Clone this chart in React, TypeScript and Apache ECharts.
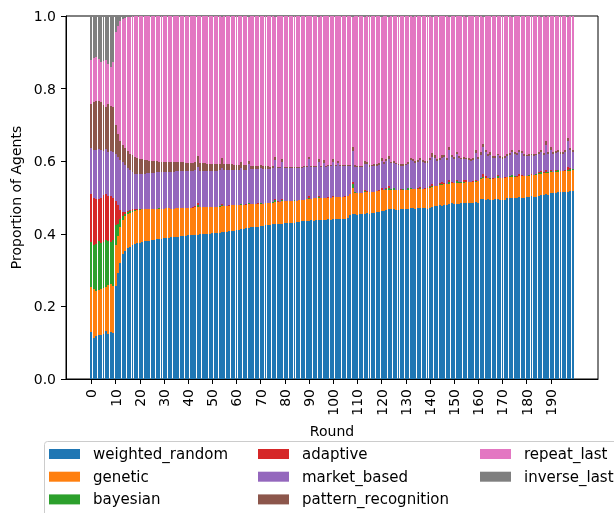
import React, { useEffect, useRef } from "react";
import * as echarts from "echarts";

// Agent counts per strategy in each round, out of a population of AGENTS.
const AGENTS = 1000;
const rounds: number[] = Array.from({ length: 200 }, (_, i) => i);

const weightedRandom = [
  130, 112, 118, 120, 121, 124, 132, 125, 129, 127,
  255, 292, 320, 343, 353, 360, 365, 369, 372, 374, 376, 378, 379,
  380, 381, 383, 384, 385, 386, 387, 388, 388, 389, 390, 390, 391, 392, 393, 394, 395, 396,
  397, 397, 398, 398, 399, 399, 400, 400, 400, 401, 401, 402, 402, 404, 404, 406, 407, 408, 409, 410,
  410, 412, 414, 416, 417, 418, 419, 420, 420, 421, 421, 423, 424, 425, 426, 427, 427, 428, 428, 429,
  429, 430, 430, 431, 432, 432, 434, 435, 436, 436, 437, 436, 437, 438, 438, 437, 439, 440, 439, 440,
  441, 441, 442, 441, 442, 443, 452, 455, 454, 453, 454, 455, 454, 456, 455, 456, 457, 459, 461, 462,
  463, 466, 467, 468, 467, 466, 466, 467, 468, 469, 469, 470, 470, 469, 470, 470, 471, 470, 469, 472,
  475, 476, 477, 478, 477, 478, 480, 482, 484, 483, 481, 483, 484, 485, 485, 484, 486, 486, 487, 486,
  495, 496, 494, 495, 493, 492, 496, 497, 494, 493, 494, 499, 500, 500, 499, 500, 501, 500, 500, 501,
  502, 503, 502, 502, 504, 507, 508, 509, 508, 512, 513, 512, 514, 515, 514, 515, 516, 517, 518,
];

const genetic = [
  124, 135, 125, 125, 128, 128, 122, 133, 133, 130,
  115, 103, 100, 94, 95, 94, 93, 92, 91, 91, 90, 89, 88,
  87, 87, 85, 84, 84, 83, 82, 81, 82, 81, 79, 79, 79, 78, 77, 77, 76, 75,
  75, 75, 75, 76, 74, 74, 74, 74, 74, 73, 74, 73, 73, 72, 72, 71, 70, 70, 69, 68,
  68, 67, 65, 64, 64, 63, 63, 62, 63, 62, 62, 61, 60, 60, 60, 61, 61, 60, 61, 60,
  61, 60, 60, 60, 59, 60, 59, 59, 59, 60, 60, 62, 61, 61, 61, 62, 61, 60, 61, 61,
  60, 60, 60, 61, 60, 60, 58, 70, 59, 59, 58, 58, 60, 58, 59, 59, 58, 58, 58, 58,
  58, 55, 55, 54, 55, 55, 55, 55, 54, 53, 53, 53, 53, 54, 53, 54, 53, 54, 56, 55,
  55, 56, 56, 56, 58, 58, 57, 56, 56, 57, 59, 58, 57, 56, 57, 58, 56, 57, 56, 59,
  57, 57, 59, 58, 59, 60, 57, 57, 59, 60, 60, 57, 56, 57, 58, 57, 57, 58, 58, 58,
  58, 58, 60, 61, 61, 59, 59, 59, 60, 58, 57, 59, 57, 57, 58, 58, 58, 57, 57,
];

const bayesian = [
  124, 123, 129, 135, 127, 126, 130, 122, 115, 125,
  55, 33, 20, 13, 7, 5, 4, 3, 2, 1, 1, 1, 0,
  0, 1, 0, 0, 0, 1, 0, 0, 0, 0, 0, 0, 0, 0, 0, 0, 1, 0,
  0, 0, 2, 4, 0, 0, 0, 0, 0, 1, 0, 0, 1, 3, 0, 0, 0, 0, 0, 1,
  0, 3, 0, 0, 3, 0, 0, 1, 0, 1, 0, 0, 0, 0, 1, 4, 0, 0, 3, 0,
  0, 0, 0, 1, 0, 0, 0, 0, 1, 2, 0, 0, 0, 2, 0, 1, 0, 0, 0, 1,
  0, 0, 0, 0, 0, 0, 1, 12, 1, 0, 0, 0, 3, 2, 0, 0, 0, 1, 0, 2,
  0, 3, 5, 1, 4, 0, 0, 0, 1, 0, 3, 2, 0, 0, 1, 3, 0, 0, 0, 1,
  1, 0, 0, 2, 3, 1, 0, 4, 1, 0, 5, 1, 2, 2, 1, 0, 0, 1, 2, 0,
  1, 4, 2, 0, 1, 0, 1, 4, 0, 0, 1, 1, 2, 5, 1, 0, 2, 2, 0, 1,
  1, 2, 0, 1, 2, 4, 1, 2, 1, 2, 0, 3, 5, 1, 0, 1, 3, 5, 3,
];

const adaptive = [
  132, 128, 124, 117, 123, 130, 126, 123, 128, 118,
  65, 50, 26, 10, 4, 4, 4, 3, 2, 2, 1, 1, 2,
  1, 0, 1, 0, 0, 0, 0, 0, 1, 0, 0, 0, 0, 0, 0, 0, 0, 0,
  0, 1, 1, 6, 1, 0, 0, 1, 0, 0, 0, 0, 1, 3, 0, 0, 1, 0, 0, 0,
  0, 1, 0, 1, 1, 0, 0, 0, 1, 1, 0, 0, 1, 0, 0, 5, 1, 0, 3, 0,
  0, 1, 0, 0, 0, 1, 0, 0, 1, 6, 0, 1, 0, 2, 0, 0, 0, 1, 0, 1,
  0, 1, 0, 0, 1, 0, 0, 6, 1, 0, 1, 0, 4, 2, 0, 1, 0, 0, 1, 3,
  0, 3, 4, 0, 1, 1, 0, 1, 0, 0, 1, 2, 1, 0, 1, 1, 0, 1, 0, 4,
  5, 1, 0, 4, 5, 2, 1, 6, 2, 1, 4, 1, 1, 5, 5, 2, 0, 1, 2, 1,
  2, 7, 4, 1, 2, 1, 1, 4, 1, 0, 1, 0, 1, 1, 1, 1, 6, 1, 1, 0,
  1, 1, 1, 0, 2, 4, 1, 5, 1, 5, 1, 1, 1, 1, 1, 2, 8, 2, 1,
];

const marketBased = [
  127, 134, 134, 137, 132, 120, 123, 123, 124, 124,
  130, 134, 138, 137, 130, 119, 109, 103, 99, 96, 96, 96, 97,
  99, 98, 99, 100, 100, 99, 101, 101, 100, 101, 102, 102, 102, 102, 102, 101, 101, 102,
  101, 100, 99, 100, 99, 100, 99, 99, 100, 99, 99, 99, 98, 98, 99, 98, 98, 98, 98, 97,
  98, 97, 98, 96, 107, 97, 96, 95, 95, 96, 96, 95, 94, 94, 93, 107, 91, 92, 103, 91,
  90, 90, 91, 89, 90, 89, 89, 89, 87, 102, 87, 86, 87, 95, 86, 96, 85, 85, 86, 95,
  85, 93, 84, 84, 84, 84, 76, 85, 70, 72, 71, 71, 72, 74, 71, 70, 72, 70, 70, 75,
  71, 73, 75, 71, 68, 69, 68, 65, 65, 67, 67, 76, 76, 73, 72, 76, 73, 71, 71, 70,
  76, 77, 68, 64, 67, 72, 66, 82, 69, 66, 70, 65, 61, 58, 57, 59, 58, 58, 75, 60,
  63, 76, 66, 60, 63, 57, 54, 54, 54, 53, 54, 57, 58, 61, 60, 60, 59, 61, 55, 53,
  53, 52, 51, 52, 50, 51, 49, 70, 50, 55, 50, 47, 49, 47, 46, 48, 70, 49, 46,
];

const patternRecognition = [
  120, 130, 135, 132, 132, 127, 117, 132, 123, 124,
  80, 64, 53, 48, 47, 46, 46, 46, 46, 45, 43, 40, 38,
  35, 34, 33, 32, 31, 30, 29, 29, 27, 27, 27, 26, 25, 26, 25, 25, 23, 23,
  23, 23, 22, 30, 22, 21, 21, 19, 19, 19, 18, 18, 18, 29, 17, 17, 15, 15, 14, 14,
  14, 18, 12, 12, 8, 10, 10, 9, 8, 9, 7, 7, 7, 6, 6, 8, 5, 5, 8, 5,
  4, 4, 3, 4, 3, 3, 3, 3, 3, 6, 3, 3, 3, 7, 3, 7, 3, 3, 3, 7,
  3, 5, 3, 3, 3, 3, 3, 12, 4, 4, 4, 4, 7, 6, 4, 4, 4, 4, 5, 8,
  5, 6, 7, 5, 5, 4, 4, 4, 4, 4, 5, 7, 6, 5, 5, 6, 5, 5, 5, 6,
  10, 8, 5, 5, 6, 6, 5, 8, 6, 5, 7, 5, 5, 5, 5, 5, 5, 5, 8, 5,
  7, 8, 7, 5, 7, 5, 5, 5, 5, 5, 5, 5, 5, 6, 6, 5, 7, 6, 5, 5,
  5, 5, 5, 5, 6, 6, 5, 10, 6, 8, 5, 5, 6, 5, 5, 6, 10, 6, 6,
];

const repeatLast = [
  122, 123, 122, 116, 109, 120, 128, 110, 108, 124,
  255, 296, 328, 347, 359, 369, 377, 383, 388, 391, 393, 395, 396,
  398, 399, 399, 400, 400, 401, 401, 401, 402, 402, 402, 403, 403, 402, 403, 403, 404, 404,
  404, 404, 403, 386, 405, 406, 406, 407, 407, 407, 408, 408, 407, 388, 408, 408, 409, 409, 410, 410,
  410, 402, 411, 411, 397, 412, 412, 413, 413, 410, 414, 414, 414, 415, 414, 385, 415, 415, 394, 415,
  416, 415, 416, 415, 416, 415, 415, 414, 413, 388, 413, 412, 412, 393, 412, 397, 412, 411, 411, 395,
  411, 400, 411, 411, 410, 410, 410, 357, 411, 412, 412, 412, 397, 402, 411, 410, 409, 408, 405, 389,
  403, 394, 384, 401, 400, 405, 407, 408, 408, 407, 402, 390, 391, 399, 398, 390, 398, 399, 399, 392,
  375, 382, 394, 391, 384, 383, 391, 358, 382, 388, 374, 387, 390, 389, 387, 392, 395, 392, 370, 389,
  375, 349, 368, 381, 375, 385, 386, 379, 387, 389, 385, 381, 378, 367, 375, 377, 368, 372, 381, 382,
  380, 379, 381, 379, 375, 366, 377, 342, 374, 360, 374, 373, 368, 374, 376, 370, 332, 364, 369,
];

const inverseLast = [
  121, 115, 113, 118, 128, 125, 122, 132, 140, 128,
  45, 28, 15, 8, 5, 3, 2, 1, 0, 0, 0, 0, 0,
  0, 0, 0, 0, 0, 0, 0, 0, 0, 0, 0, 0, 0, 0, 0, 0, 0, 0,
  0, 0, 0, 0, 0, 0, 0, 0, 0, 0, 0, 0, 0, 3, 0, 0, 0, 0, 0, 0,
  0, 0, 0, 0, 3, 0, 0, 0, 0, 0, 0, 0, 0, 0, 0, 3, 0, 0, 0, 0,
  0, 0, 0, 0, 0, 0, 0, 0, 0, 0, 0, 0, 0, 2, 0, 0, 0, 0, 0, 0,
  0, 0, 0, 0, 0, 0, 0, 3, 0, 0, 0, 0, 3, 0, 0, 0, 0, 0, 0, 3,
  0, 0, 3, 0, 0, 0, 0, 0, 0, 0, 0, 0, 3, 0, 0, 0, 0, 0, 0, 0,
  3, 0, 0, 0, 0, 0, 0, 4, 0, 0, 0, 0, 0, 0, 3, 0, 0, 0, 0, 0,
  0, 3, 0, 0, 0, 0, 0, 0, 0, 0, 0, 0, 0, 3, 0, 0, 0, 0, 0, 0,
  0, 0, 0, 0, 0, 3, 0, 3, 0, 0, 0, 0, 0, 0, 0, 0, 3, 0, 0,
];

const strategyNames = [
  "weighted_random",
  "genetic",
  "bayesian",
  "adaptive",
  "market_based",
  "pattern_recognition",
  "repeat_last",
  "inverse_last",
];
const strategyCounts = [
  weightedRandom,
  genetic,
  bayesian,
  adaptive,
  marketBased,
  patternRecognition,
  repeatLast,
  inverseLast,
];
const yTicks = [0, 0.2, 0.4, 0.6, 0.8, 1.0];
const xTickStep = 10;
const xTickLast = 190;

// matplotlib tab10
const palette = [
  "#1f77b4",
  "#ff7f0e",
  "#2ca02c",
  "#d62728",
  "#9467bd",
  "#8c564b",
  "#e377c2",
  "#7f7f7f",
];

const FONT = "DejaVu Sans";
const BAR_FRACTION = 0.8;

export default function App() {
  const ref = useRef<HTMLDivElement>(null);

  useEffect(() => {
    if (!ref.current) return;
    const chart = echarts.init(ref.current, undefined, { renderer: "svg" });

    // Category axis padded by ten empty slots on both sides (axis margin).
    const pad = 10;
    const axisCats: string[] = [];
    for (let i = -pad; i < rounds.length + pad; i++) axisCats.push(String(i));
    const showTick = (_: number, value: string) => {
      const n = Number(value);
      return n >= 0 && n <= xTickLast && n % xTickStep === 0;
    };

    // Stack bottoms/tops for every strategy in every round.
    const running = rounds.map(() => 0);
    const stacked = strategyCounts.map((counts) =>
      rounds.map((r, i) => {
        const base = running[i];
        const top = base + counts[i] / AGENTS;
        running[i] = top;
        return [String(r), base, top];
      })
    );

    // Pixel-snapped stacked bars.
    const makeRender = (color: string) => (_params: any, api: any) => {
      const xi = api.value(0);
      const pBase = api.coord([xi, api.value(1)]);
      const pTop = api.coord([xi, api.value(2)]);
      const bw = api.size([1, 0])[0] * BAR_FRACTION;
      const x0 = Math.round(pBase[0] - bw / 2);
      const x1 = Math.round(pBase[0] + bw / 2);
      const yb = Math.round(pBase[1]);
      const yt = Math.round(pTop[1]);
      if (yb - yt <= 0 || x1 <= x0) return null;
      return {
        type: "rect",
        shape: { x: x0, y: yt, width: x1 - x0, height: yb - yt },
        style: { fill: color },
      };
    };

    const series = strategyNames.map((name, s) => ({
      name,
      type: "custom",
      silent: true,
      itemStyle: { color: palette[s] },
      encode: { x: 0, y: [1, 2] },
      renderItem: makeRender(palette[s]),
      data: stacked[s],
    }));

    const legendBase = {
      orient: "vertical",
      icon: "rect",
      itemWidth: 31,
      itemHeight: 10,
      itemGap: 5.7,
      padding: 0,
      selectedMode: false,
      top: 445.5,
      textStyle: {
        fontFamily: FONT,
        fontSize: 15,
        color: "#000",
        lineHeight: 17,
        padding: [0, 0, 0, 8],
      },
    };

    chart.setOption({
      animation: false,
      textStyle: { fontFamily: FONT },
      grid: {
        left: 66,
        right: 16,
        top: 16,
        bottom: 134,
        show: true,
        borderColor: "#000",
        borderWidth: 1,
        backgroundColor: "transparent",
      },
      xAxis: {
        type: "category",
        data: axisCats,
        boundaryGap: true,
        name: "Round",
        nameLocation: "middle",
        nameGap: 44,
        nameTextStyle: { fontFamily: FONT, fontSize: 14, color: "#000" },
        axisLine: { show: true, lineStyle: { color: "#000", width: 1 } },
        axisTick: {
          show: true,
          alignWithLabel: true,
          interval: showTick,
          length: 5,
          lineStyle: { color: "#000", width: 1 },
        },
        axisLabel: {
          interval: showTick,
          rotate: 90,
          margin: 10,
          fontFamily: FONT,
          fontSize: 14,
          color: "#000",
        },
        splitLine: { show: false },
      },
      yAxis: {
        type: "value",
        min: yTicks[0],
        max: yTicks[yTicks.length - 1],
        interval: 0.2,
        name: "Proportion of Agents",
        nameLocation: "middle",
        nameGap: 42,
        nameTextStyle: { fontFamily: FONT, fontSize: 14, color: "#000" },
        axisLine: { show: true, lineStyle: { color: "#000", width: 1 } },
        axisTick: { show: true, length: 5, lineStyle: { color: "#000", width: 1 } },
        axisLabel: {
          margin: 10,
          fontFamily: FONT,
          fontSize: 14,
          color: "#000",
          formatter: (v: number) => v.toFixed(1),
        },
        splitLine: { show: false },
      },
      legend: [
        { ...legendBase, left: 49, data: strategyNames.slice(0, 3) },
        { ...legendBase, left: 258, data: strategyNames.slice(3, 6) },
        { ...legendBase, left: 480, data: strategyNames.slice(6) },
      ],
      graphic: [
        {
          type: "rect",
          x: 44.5,
          y: 441.5,
          z: 0,
          shape: { x: 0, y: 0, width: 640, height: 120, r: 3 },
          style: { fill: "rgba(255,255,255,0.8)", stroke: "#cccccc", lineWidth: 1 },
        },
      ],
      series,
    });

    return () => chart.dispose();
  }, []);

  return (
    <div
      ref={ref}
      style={{ position: "fixed", left: 0, top: 0, width: 614, height: 513 }}
    />
  );
}
